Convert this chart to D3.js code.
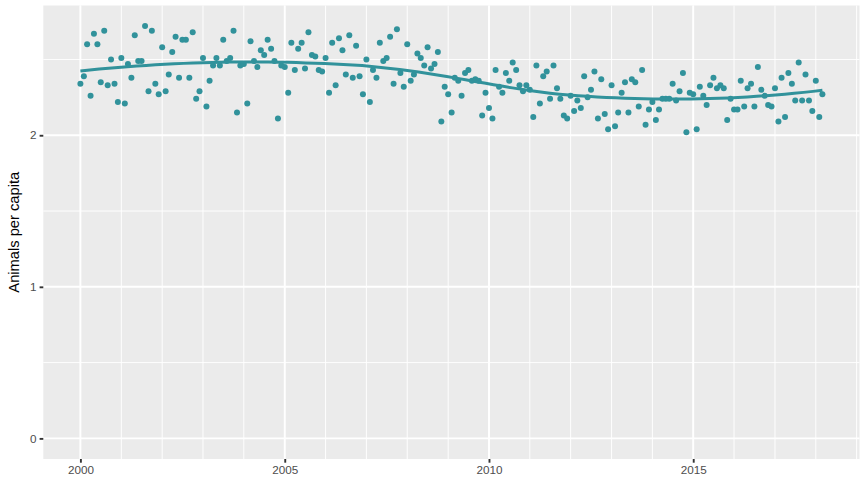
<!DOCTYPE html>
<html>
<head>
<meta charset="utf-8">
<script src="https://cdn.jsdelivr.net/npm/d3@7"></script>
<style>
  body { margin: 0; background: #fff; }
  text { font-family: "Liberation Sans", Arial, sans-serif; }
</style>
</head>
<body>
<svg id="chart" width="867" height="499"></svg>
<script>
// monthly values, Jan 2000 .. Mar 2018
const firstMonth = new Date(2000, 0, 1);
const animalsPerCapita = [
  2.34, 2.39, 2.60, 2.26, 2.67, 2.60, 2.35, 2.69, 2.33, 2.50, 2.34, 2.22,
  2.51, 2.21, 2.47, 2.38, 2.66, 2.49, 2.49, 2.72, 2.29, 2.69, 2.34, 2.27,
  2.58, 2.29, 2.40, 2.55, 2.65, 2.38, 2.63, 2.63, 2.38, 2.68, 2.24, 2.29,
  2.51, 2.19, 2.36, 2.46, 2.51, 2.46, 2.63, 2.49, 2.51, 2.69, 2.15, 2.46,
  2.47, 2.21, 2.62, 2.49, 2.45, 2.56, 2.53, 2.63, 2.57, 2.49, 2.11, 2.46,
  2.45, 2.28, 2.61, 2.43, 2.57, 2.61, 2.44, 2.68, 2.53, 2.52, 2.43, 2.42,
  2.51, 2.28, 2.61, 2.33, 2.64, 2.56, 2.40, 2.66, 2.38, 2.59, 2.39, 2.27,
  2.50, 2.22, 2.43, 2.38, 2.61, 2.49, 2.51, 2.65, 2.34, 2.70, 2.41, 2.32,
  2.60, 2.36, 2.40, 2.54, 2.51, 2.46, 2.58, 2.44, 2.47, 2.55, 2.09, 2.32,
  2.27, 2.15, 2.38, 2.36, 2.26, 2.41, 2.43, 2.36, 2.37, 2.36, 2.13, 2.28,
  2.18, 2.11, 2.43, 2.32, 2.28, 2.41, 2.36, 2.48, 2.43, 2.33, 2.29, 2.33,
  2.30, 2.12, 2.46, 2.21, 2.39, 2.42, 2.24, 2.46, 2.31, 2.24, 2.13, 2.11,
  2.26, 2.16, 2.23, 2.18, 2.39, 2.25, 2.30, 2.42, 2.11, 2.37, 2.14, 2.04,
  2.33, 2.06, 2.15, 2.28, 2.35, 2.15, 2.37, 2.35, 2.19, 2.43, 2.07, 2.17,
  2.22, 2.10, 2.17, 2.24, 2.24, 2.24, 2.34, 2.23, 2.29, 2.41, 2.02, 2.28,
  2.27, 2.04, 2.32, 2.26, 2.20, 2.33, 2.38, 2.31, 2.33, 2.31, 2.10, 2.24,
  2.17, 2.17, 2.36, 2.19, 2.31, 2.34, 2.19, 2.45, 2.30, 2.26, 2.20, 2.19,
  2.31, 2.09, 2.38, 2.12, 2.41, 2.34, 2.23, 2.48, 2.23, 2.40, 2.23, 2.16,
  2.36, 2.12, 2.27
];
const xTickYears = [2000, 2005, 2010, 2015];
const yTicks = [0, 1, 2];
const yMinorTicks = [0.5, 1.5, 2.5];
const yTitle = "Animals per capita";

const data = animalsPerCapita.map((v, i) => ({
  date: d3.timeMonth.offset(firstMonth, i), value: v
}));

const width = 867, height = 499;
const margin = {top: 5.5, right: 7.5, bottom: 40, left: 43.3};
const pw = width - margin.left - margin.right;
const ph = height - margin.top - margin.bottom;
const col = "#31929b";

const svg = d3.select("#chart");
const g = svg.append("g").attr("transform", `translate(${margin.left},${margin.top})`);

// ggplot style 5% expansion
const tExt = d3.extent(data, d => +d.date);
const tPad = (tExt[1] - tExt[0]) * 0.05;
const x = d3.scaleTime()
  .domain([new Date(tExt[0] - tPad), new Date(tExt[1] + tPad)])
  .range([0, pw]);
const yMax = d3.max(animalsPerCapita);
const yPad = yMax * 0.05;
const y = d3.scaleLinear().domain([-yPad, yMax + yPad]).range([ph, 0]);

g.append("rect").attr("width", pw).attr("height", ph).attr("fill", "#ebebeb");

// minor grid
const minorYears = d3.timeYear.range(x.domain()[0], x.domain()[1])
  .concat([d3.timeYear.ceil(x.domain()[0])])
  .filter(d => x(d) >= 0 && x(d) <= pw);
g.selectAll(".vminor").data(minorYears).join("line")
  .attr("x1", d => x(d)).attr("x2", d => x(d))
  .attr("y1", 0).attr("y2", ph)
  .attr("stroke", "#fff").attr("stroke-width", 0.95);
g.selectAll(".hminor").data(yMinorTicks).join("line")
  .attr("x1", 0).attr("x2", pw)
  .attr("y1", d => y(d)).attr("y2", d => y(d))
  .attr("stroke", "#fff").attr("stroke-width", 0.95);

// major grid
const majorDates = xTickYears.map(yr => new Date(yr, 0, 1));
g.selectAll(".vmajor").data(majorDates).join("line")
  .attr("x1", d => x(d)).attr("x2", d => x(d))
  .attr("y1", 0).attr("y2", ph)
  .attr("stroke", "#fff").attr("stroke-width", 1.9);
g.selectAll(".hmajor").data(yTicks).join("line")
  .attr("x1", 0).attr("x2", pw)
  .attr("y1", d => y(d)).attr("y2", d => y(d))
  .attr("stroke", "#fff").attr("stroke-width", 1.9);

// loess smooth (span .75, degree 2, tricube)
function loess(xs, ys, span, x0) {
  const n = xs.length, q = Math.floor(n * span);
  const dist = xs.map(v => Math.abs(v - x0));
  const maxD = dist.slice().sort((a, b) => a - b)[q - 1];
  let s = Array(5).fill(0), t = Array(3).fill(0);
  for (let i = 0; i < n; i++) {
    const u = dist[i] / maxD;
    if (u >= 1) continue;
    const w = Math.pow(1 - u * u * u, 3);
    const dx = xs[i] - x0;
    let p = 1;
    for (let k = 0; k < 5; k++) { s[k] += w * p; if (k < 3) t[k] += w * p * ys[i]; p *= dx; }
  }
  const A = [[s[0], s[1], s[2]], [s[1], s[2], s[3]], [s[2], s[3], s[4]]];
  const det = m => m[0][0]*(m[1][1]*m[2][2]-m[1][2]*m[2][1]) - m[0][1]*(m[1][0]*m[2][2]-m[1][2]*m[2][0]) + m[0][2]*(m[1][0]*m[2][1]-m[1][1]*m[2][0]);
  const A0 = A.map((r, i) => [t[i], r[1], r[2]]);
  return det(A0) / det(A);
}
const xs = data.map((d, i) => i);
const smooth = d3.range(80).map(k => ({
  t: tExt[0] + (tExt[1] - tExt[0]) * k / 79,
  value: loess(xs, animalsPerCapita, 0.75, (xs.length - 1) * k / 79)
}));

g.selectAll("circle").data(data).join("circle")
  .attr("cx", d => x(d.date)).attr("cy", d => y(d.value))
  .attr("r", 3).attr("fill", col);

g.append("path").datum(smooth)
  .attr("fill", "none").attr("stroke", col).attr("stroke-width", 3)
  .attr("d", d3.line().x(d => x(new Date(d.t))).y(d => y(d.value)));

// axes
const xAxis = g.append("g").attr("transform", `translate(0,${ph})`)
  .call(d3.axisBottom(x).tickValues(majorDates).tickFormat(d3.timeFormat("%Y"))
    .tickSize(3.7).tickPadding(3));
const yAxis = g.append("g")
  .call(d3.axisLeft(y).tickValues(yTicks).tickFormat(d3.format("d"))
    .tickSize(3.7).tickPadding(3));
[xAxis, yAxis].forEach(a => {
  a.select(".domain").remove();
  a.selectAll(".tick line").attr("stroke", "#333").attr("stroke-width", 1.9);
  a.selectAll(".tick text").attr("fill", "#4d4d4d").style("font-size", "11.7px")
    .style("font-family", "'Liberation Sans', Arial, sans-serif");
});
xAxis.selectAll(".tick text").attr("dy", "0.75em");

svg.append("text")
  .attr("transform", `translate(18.5,${margin.top + ph / 2}) rotate(-90)`)
  .attr("text-anchor", "middle")
  .style("font-size", "14.7px").attr("fill", "#000")
  .text(yTitle);
</script>
</body>
</html>
